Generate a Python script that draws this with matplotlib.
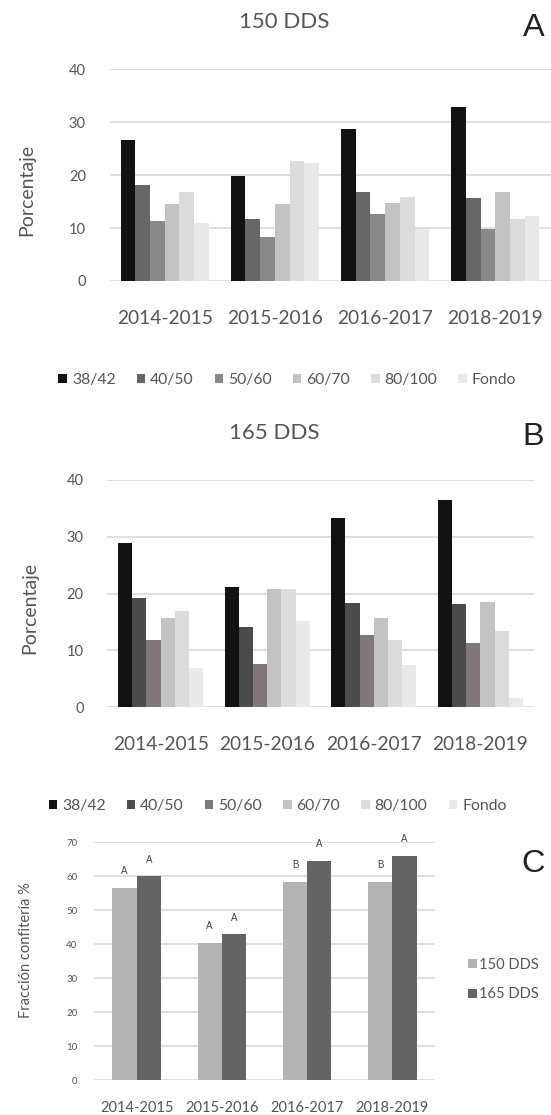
import matplotlib
matplotlib.use("Agg")
import matplotlib.pyplot as plt
import numpy as np
from matplotlib.patches import Patch

plt.rcParams['font.family'] = ['Lato', 'DejaVu Sans']

# ---- data ----
seasons = ["2014-2015", "2015-2016", "2016-2017", "2018-2019"]
sizes = ["38/42", "40/50", "50/60", "60/70", "80/100", "Fondo"]

# % per size class at 150 DDS (one list per size, one value per season)
dds150_3842 = [26.7, 19.9, 28.7, 32.8]
dds150_4050 = [18.2, 11.7, 16.8, 15.6]
dds150_5060 = [11.4, 8.4, 12.6, 9.9]
dds150_6070 = [14.6, 14.6, 14.8, 16.9]
dds150_80100 = [16.9, 22.6, 15.8, 11.7]
dds150_fondo = [10.9, 22.3, 9.8, 12.3]

# % per size class at 165 DDS
dds165_3842 = [29.0, 21.1, 33.3, 36.4]
dds165_4050 = [19.3, 14.1, 18.4, 18.1]
dds165_5060 = [11.8, 7.7, 12.7, 11.4]
dds165_6070 = [15.7, 20.8, 15.7, 18.6]
dds165_80100 = [17.0, 20.8, 11.8, 13.4]
dds165_fondo = [7.0, 15.2, 7.4, 1.6]

# confectionery fraction (%)
conf_150 = [56.5, 40.3, 58.2, 58.2]
conf_165 = [59.9, 42.8, 64.5, 65.9]
letters_150 = ["A", "A", "B", "B"]
letters_165 = ["A", "A", "A", "A"]
harvest_labels = ["150 DDS", "165 DDS"]

colors_a = ["#111311", "#666666", "#888888", "#c3c3c3", "#dcdcdc", "#e9e9e9"]
colors_b = ["#111311", "#4b4b4b", "#807878", "#c3c3c3", "#dcdcdc", "#e9e9e9"]
colors_c = ["#b3b3b3", "#636363"]

W, H = 551, 1115
fig = plt.figure(figsize=(W / 100, H / 100), dpi=100)

GRID = "#d9d9d9"
TXT = "#555555"


def px_axes(left, top, right, bottom):
    return fig.add_axes([left / W, 1 - bottom / H, (right - left) / W, (bottom - top) / H])


def style(ax, ymax, ystep, ytick_fs, ypad, xtick_fs, xpad):
    ax.set_ylim(0, ymax)
    ax.set_xlim(-0.5, len(seasons) - 0.5)
    ax.set_yticks(np.arange(0, ymax + 0.1, ystep))
    ax.yaxis.grid(True, color=GRID, linewidth=1.2)
    ax.set_axisbelow(True)
    for s in ax.spines.values():
        s.set_visible(False)
    ax.tick_params(axis="y", length=0, pad=ypad, labelsize=ytick_fs, labelcolor=TXT)
    ax.tick_params(axis="x", length=0, pad=xpad, labelsize=xtick_fs, labelcolor=TXT)
    ax.set_xticks(range(len(seasons)))
    ax.set_xticklabels(seasons)


def size_panel(ax, series, colors):
    x = np.arange(len(seasons))
    bw = 0.80 / len(series)
    for j, (vals, c) in enumerate(zip(series, colors)):
        ax.bar(x + (j - (len(series) - 1) / 2) * bw, vals, width=bw, color=c,
               edgecolor="none", label=sizes[j])


# ---- panel A ----
axA = px_axes(109.5, 69.3, 550.5, 281)
size_panel(axA, [dds150_3842, dds150_4050, dds150_5060, dds150_6070, dds150_80100, dds150_fondo], colors_a)
style(axA, 40, 10, 10.5, 17, 13.8, 21)
axA.set_ylabel("Porcentaje", fontsize=14, color=TXT)

# ---- panel B ----
axB = px_axes(107.3, 480, 533.7, 707.3)
size_panel(axB, [dds165_3842, dds165_4050, dds165_5060, dds165_6070, dds165_80100, dds165_fondo], colors_b)
style(axB, 40, 10, 10.5, 17, 13.8, 21)
axB.set_ylabel("Porcentaje", fontsize=14, color=TXT)

# ---- panel C ----
axC = px_axes(94, 842, 435, 1080)
x = np.arange(len(seasons))
bwc = 0.285
axC.bar(x - bwc / 2, conf_150, width=bwc, color=colors_c[0], edgecolor="none", label=harvest_labels[0])
axC.bar(x + bwc / 2, conf_165, width=bwc, color=colors_c[1], edgecolor="none", label=harvest_labels[1])
style(axC, 70, 10, 7, 12, 10.5, 15)
axC.set_ylabel("Fracción confitería %", fontsize=10.5, color=TXT)
for offs, vals, labs in [(-bwc / 2, conf_150, letters_150), (bwc / 2, conf_165, letters_165)]:
    for xi, v, l in zip(x + offs, vals, labs):
        axC.annotate(l, (xi, v), xytext=(0, 12), textcoords="offset points", ha="center",
                     va="center", fontsize=7, color="#444444", family="Liberation Sans")

# y labels placed at fixed horizontal positions (x refers to the label's baseline side)
for ax, xpx, ypx in [(axA, 35, 190), (axB, 38, 607.5), (axC, 33, 950)]:
    ax.yaxis.set_label_coords(xpx / W, 1 - ypx / H, transform=fig.transFigure)

# ---- titles and panel letters ----
fig.text(284.5 / W, 1 - 22.3 / H, "150 DDS", ha="center", va="center", fontsize=16, color=TXT)
fig.text(274 / W, 1 - 432.7 / H, "165 DDS", ha="center", va="center", fontsize=16, color=TXT)
for lab, cx, cy in [("A", 533.7, 28.3), ("B", 533.3, 436.7), ("C", 533.3, 864)]:
    fig.text(cx / W, 1 - cy / H, lab, ha="center", va="center", fontsize=23.4,
             color="#222222", family="Liberation Sans")


# ---- legends ----
def sq_handles(colors, labels):
    return [Patch(facecolor=c, edgecolor="none", label=l) for c, l in zip(colors, labels)]


legkw = dict(ncol=6, frameon=False, fontsize=11.3, handlelength=0.54, handleheight=0.54,
             handletextpad=0.32, columnspacing=1.34, borderpad=0, borderaxespad=0,
             labelcolor=TXT)
fig.legend(handles=sq_handles(colors_a, sizes), loc="center",
           bbox_to_anchor=(287.3 / W, 1 - 380 / H), **legkw)
fig.legend(handles=sq_handles(colors_b, sizes), loc="center",
           bbox_to_anchor=(277.5 / W, 1 - 806 / H), **legkw)
fig.legend(handles=sq_handles(colors_c, harvest_labels), loc="center left",
           bbox_to_anchor=(468.3 / W, 1 - 979.5 / H), frameon=False, fontsize=10.5,
           handlelength=0.58, handleheight=0.58, handletextpad=0.12, labelspacing=1.06,
           borderpad=0, borderaxespad=0, labelcolor=TXT)

fig.savefig("out.png", dpi=100)
